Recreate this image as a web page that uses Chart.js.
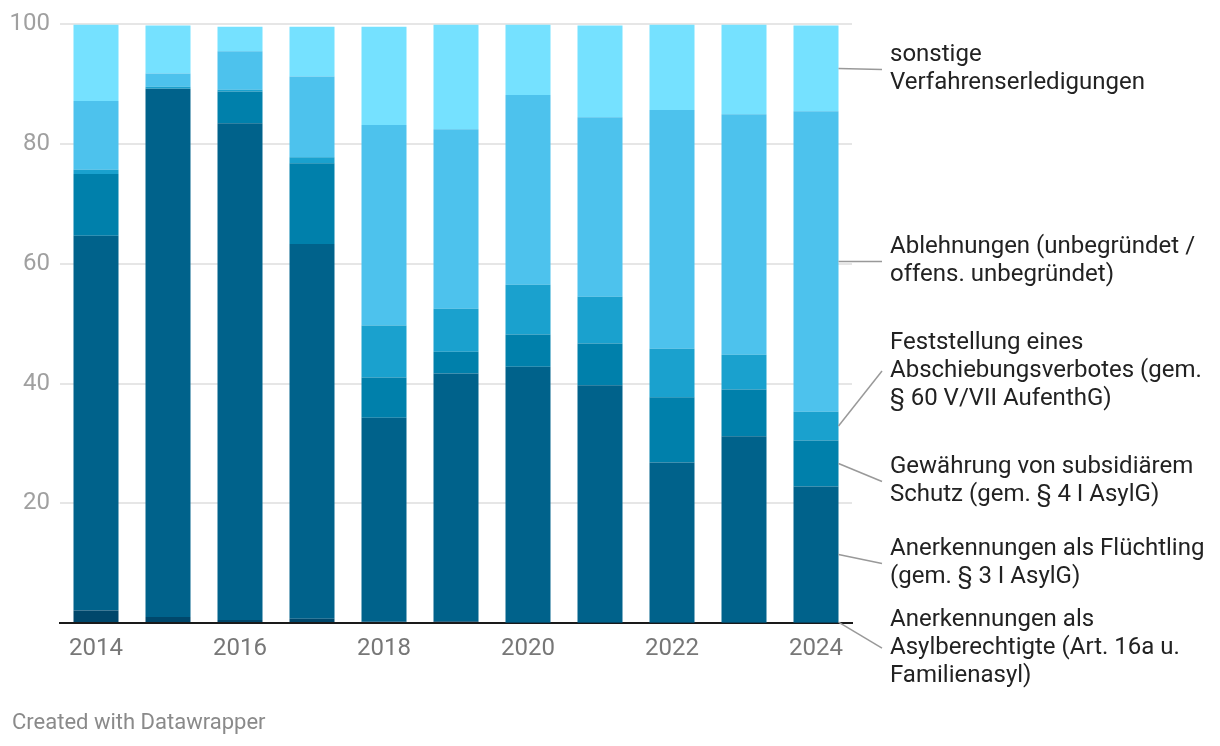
<!DOCTYPE html>
<html lang="de">
<head>
<meta charset="utf-8">
<title>Asylentscheidungen 2014–2024</title>
<script src="https://cdn.jsdelivr.net/npm/chart.js@4.4.1/dist/chart.umd.min.js"></script>
<style>
  html, body { margin: 0; padding: 0; background: #fff; }
  .wrap { position: relative; width: 1220px; height: 746px; }
  .credit {
    position: absolute; left: 12px; top: 709px;
    font: 22px Roboto, sans-serif; color: #8a8a8a;
  }
</style>
</head>
<body>
<div class="wrap">
  <canvas id="chart" width="1220" height="746"></canvas>
  <div class="credit">Created with Datawrapper</div>
</div>
<script>
const years = ["2014", "2015", "2016", "2017", "2018", "2019", "2020", "2021", "2022", "2023", "2024"];

// Anteile in %, von unten nach oben gestapelt
const asylberechtigte = [2.1, 1.0, 0.5, 0.7, 0.2, 0.3, 0.1, 0.1, 0.1, 0.1, 0.1];
const fluechtling = [62.6, 88.2, 83.0, 62.6, 34.1, 41.4, 42.7, 39.6, 26.7, 31.1, 22.7];
const subsidiaer = [10.3, 0.1, 5.3, 13.5, 6.7, 3.6, 5.4, 7.0, 10.9, 7.8, 7.7];
const abschiebungsverbot = [0.7, 0.3, 0.3, 1.0, 8.7, 7.2, 8.3, 7.8, 8.1, 5.8, 4.8];
const ablehnungen = [11.5, 2.2, 6.4, 13.5, 33.5, 30.0, 31.7, 30.0, 39.9, 40.2, 50.2];
const sonstige = [12.8, 8.0, 4.1, 8.3, 16.4, 17.5, 11.8, 15.3, 14.3, 15.0, 14.3];

const yTicks = [0, 20, 40, 60, 80, 100];

const series = [
  { label: ["Anerkennungen als", "Asylberechtigte (Art. 16a u.", "Familienasyl)"], data: asylberechtigte, color: "#00476b", shift: 26 },
  { label: ["Anerkennungen als Flüchtling", "(gem. § 3 I AsylG)"], data: fluechtling, color: "#00628b", shift: 9 },
  { label: ["Gewährung von subsidiärem", "Schutz (gem. § 4 I AsylG)"], data: subsidiaer, color: "#0080ab", shift: 18 },
  { label: ["Feststellung eines", "Abschiebungsverbotes (gem.", "§ 60 V/VII AufenthG)"], data: abschiebungsverbot, color: "#1aa1ce", shift: -55 },
  { label: ["Ablehnungen (unbegründet /", "offens. unbegründet)"], data: ablehnungen, color: "#4dc2ed", shift: 0 },
  { label: ["sonstige", "Verfahrenserledigungen"], data: sonstige, color: "#75e1ff", shift: 1 },
];

const FONT = "Roboto, sans-serif";

const directLabels = {
  id: "directLabels",
  afterDraw(chart) {
    const ctx = chart.ctx;
    const last = years.length - 1;
    ctx.save();
    series.forEach((s, i) => {
      const bar = chart.getDatasetMeta(i).data[last];
      const mid = (bar.y + bar.base) / 2;
      const x0 = bar.x + bar.width / 2;
      const ty = mid + s.shift;
      ctx.strokeStyle = "#999";
      ctx.lineWidth = 1.5;
      ctx.beginPath();
      ctx.moveTo(x0, mid);
      ctx.lineTo(882, ty);
      ctx.stroke();

      ctx.fillStyle = "#222";
      ctx.font = `24px ${FONT}`;
      ctx.textBaseline = "middle";
      ctx.textAlign = "left";
      const lh = 28;
      const start = ty - ((s.label.length - 1) * lh) / 2;
      s.label.forEach((line, k) => ctx.fillText(line, 890, start + k * lh));
    });
    ctx.restore();
  },
};

new Chart(document.getElementById("chart"), {
  type: "bar",
  data: {
    labels: years,
    datasets: series.map((s) => ({
      label: s.label.join(" "),
      data: s.data,
      backgroundColor: s.color,
      borderWidth: 0,
      barPercentage: 0.625,
      categoryPercentage: 1,
    })),
  },
  options: {
    responsive: false,
    animation: false,
    devicePixelRatio: 1,
    layout: { padding: { left: 0, right: 368, top: 23, bottom: 0 } },
    plugins: {
      legend: { display: false },
      tooltip: { enabled: false },
    },
    scales: {
      x: {
        stacked: true,
        grid: { display: false, drawTicks: false },
        border: { color: "#1a1a1a", width: 2 },
        ticks: {
          autoSkip: false,
          maxRotation: 0,
          padding: 12,
          color: "#777",
          font: { family: FONT, size: 24 },
          callback: (value, index) => (index % 2 === 0 ? years[index] : ""),
        },
        afterFit: (scale) => { scale.height = 123; },
      },
      y: {
        stacked: true,
        min: 0,
        max: 100,
        afterBuildTicks: (scale) => { scale.ticks = yTicks.map((v) => ({ value: v })); },
        grid: { color: "#e6e6e6", lineWidth: 2, drawTicks: false },
        border: { display: false },
        ticks: {
          padding: 10,
          color: "#a0a0a0",
          font: { family: FONT, size: 24 },
          callback: (value) => (value === 0 ? "" : value),
        },
        afterFit: (scale) => { scale.width = 60; },
      },
    },
  },
  plugins: [directLabels],
});
</script>
</body>
</html>
